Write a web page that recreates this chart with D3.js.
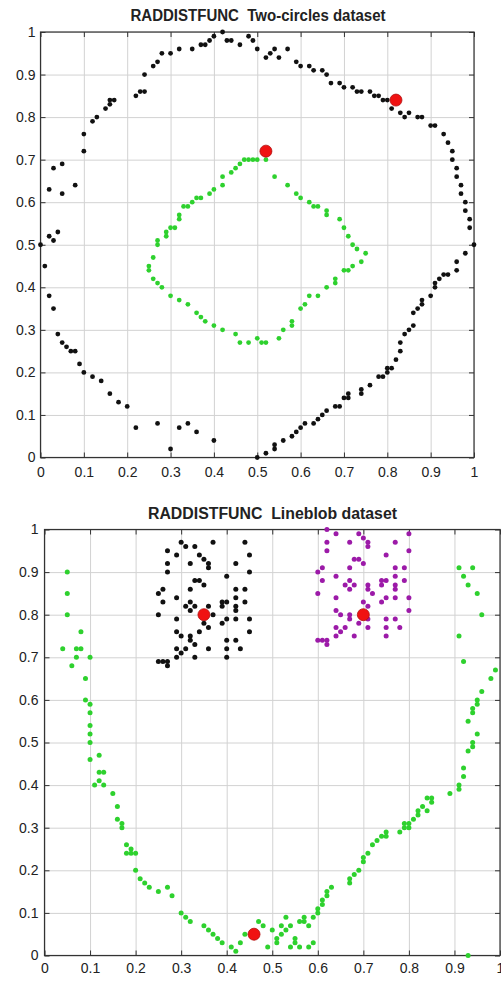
<!DOCTYPE html>
<html>
<head>
<meta charset="utf-8">
<script src="https://cdn.jsdelivr.net/npm/d3@7"></script>
<style>
  body { margin: 0; background: #fff; }
  svg { display: block; }
</style>
</head>
<body>
<div id="chart"></div>
<script>
// shared ticks
const tickValues = [0, 0.1, 0.2, 0.3, 0.4, 0.5, 0.6, 0.7, 0.8, 0.9, 1];
const tickLabels = ["0", "0.1", "0.2", "0.3", "0.4", "0.5", "0.6", "0.7", "0.8", "0.9", "1"];

// Two-circles dataset
const twoCirclesTitle = "RADDISTFUNC  Two-circles dataset";
const twoCirclesOuter = [
  [0,0.50],[0.02,0.63],[0.03,0.68],[0.05,0.69],[0.05,0.62],[0.08,0.64],[0.02,0.52],[0.03,0.51],[0.04,0.53],
  [0.10,0.76],[0.10,0.72],[0.12,0.79],[0.13,0.80],[0.15,0.82],[0.16,0.83],[0.16,0.84],[0.17,0.84],[0.22,0.85],
  [0.23,0.86],[0.24,0.86],[0.24,0.90],[0.26,0.92],[0.27,0.93],[0.28,0.95],[0.30,0.95],[0.32,0.96],[0.35,0.96],
  [0.37,0.97],[0.38,0.97],[0.39,0.98],[0.40,0.99],[0.42,1.00],[0.43,0.98],[0.44,0.98],[0.46,0.97],[0.48,0.99],
  [0.49,0.98],[0.50,0.96],[0.52,0.94],[0.53,0.95],[0.54,0.96],[0.55,0.94],[0.57,0.96],[0.59,0.93],[0.60,0.92],
  [0.62,0.92],[0.63,0.91],[0.65,0.91],[0.66,0.90],[0.67,0.88],[0.69,0.88],[0.70,0.87],[0.72,0.87],[0.73,0.86],
  [0.74,0.86],[0.76,0.86],[0.77,0.85],[0.78,0.85],[0.79,0.84],[0.80,0.84],[0.81,0.82],[0.83,0.81],[0.84,0.80],
  [0.85,0.81],[0.87,0.80],[0.88,0.80],[0.90,0.78],[0.91,0.78],[0.93,0.76],[0.94,0.74],[0.95,0.72],[0.95,0.70],
  [0.96,0.68],[0.96,0.66],[0.97,0.64],[0.97,0.62],[0.98,0.60],[0.98,0.58],[0.99,0.56],[0.99,0.54],[1.00,0.50],
  [0.01,0.45],[0.02,0.38],[0.03,0.35],[0.04,0.29],[0.05,0.27],[0.06,0.26],[0.07,0.25],[0.08,0.25],[0.09,0.22],
  [0.10,0.20],[0.12,0.19],[0.14,0.18],[0.16,0.15],[0.18,0.13],[0.20,0.12],[0.22,0.07],[0.27,0.08],[0.30,0.02],
  [0.32,0.07],[0.34,0.08],[0.36,0.06],[0.40,0.04],[0.50,0.00],[0.52,0.01],[0.54,0.02],[0.54,0.03],[0.56,0.04],
  [0.58,0.05],[0.59,0.06],[0.60,0.07],[0.61,0.08],[0.63,0.08],[0.64,0.09],[0.65,0.10],[0.66,0.11],[0.68,0.12],
  [0.69,0.12],[0.70,0.14],[0.71,0.14],[0.71,0.15],[0.74,0.15],[0.74,0.16],[0.76,0.17],[0.78,0.19],[0.79,0.19],
  [0.80,0.20],[0.80,0.21],[0.81,0.21],[0.82,0.23],[0.83,0.25],[0.83,0.27],[0.84,0.29],[0.85,0.30],[0.86,0.31],
  [0.86,0.34],[0.87,0.35],[0.88,0.36],[0.88,0.37],[0.90,0.38],[0.91,0.40],[0.91,0.41],[0.92,0.42],[0.93,0.43],
  [0.94,0.43],[0.96,0.44],[0.96,0.46],[0.98,0.48]
];
const twoCirclesInner = [
  [0.27,0.51],[0.27,0.50],[0.29,0.53],[0.29,0.52],[0.30,0.54],[0.31,0.54],[0.32,0.56],[0.32,0.57],[0.33,0.59],
  [0.34,0.59],[0.35,0.60],[0.36,0.61],[0.37,0.61],[0.39,0.62],[0.40,0.63],[0.42,0.64],[0.42,0.66],[0.44,0.67],
  [0.45,0.68],[0.46,0.69],[0.47,0.70],[0.48,0.70],[0.49,0.70],[0.50,0.70],[0.52,0.70],[0.54,0.66],[0.57,0.64],
  [0.59,0.62],[0.60,0.61],[0.62,0.60],[0.63,0.59],[0.64,0.59],[0.66,0.58],[0.66,0.57],[0.69,0.56],[0.70,0.54],
  [0.71,0.52],[0.72,0.50],[0.26,0.47],[0.25,0.45],[0.25,0.44],[0.26,0.42],[0.27,0.41],[0.28,0.40],[0.30,0.38],
  [0.32,0.37],[0.34,0.36],[0.36,0.34],[0.37,0.33],[0.38,0.32],[0.40,0.31],[0.42,0.30],[0.45,0.29],[0.46,0.27],
  [0.48,0.27],[0.50,0.28],[0.51,0.27],[0.52,0.27],[0.55,0.28],[0.56,0.30],[0.58,0.31],[0.58,0.32],[0.60,0.35],
  [0.61,0.36],[0.62,0.38],[0.64,0.38],[0.66,0.40],[0.68,0.41],[0.68,0.42],[0.70,0.44],[0.71,0.44],[0.72,0.45],
  [0.74,0.46],[0.75,0.48],[0.73,0.49]
];
const twoCirclesCenters = [[0.52,0.72],[0.82,0.84]];

// Lineblob dataset
const lineblobTitle = "RADDISTFUNC  Lineblob dataset";
const lineblobBlack = [
  [0.25,0.80],[0.25,0.85],[0.26,0.86],[0.26,0.83],[0.25,0.69],[0.26,0.69],[0.27,0.69],[0.27,0.68],[0.27,0.95],
  [0.27,0.92],[0.27,0.90],[0.29,0.94],[0.29,0.84],[0.29,0.79],[0.29,0.76],[0.30,0.75],[0.29,0.72],[0.29,0.70],
  [0.30,0.71],[0.30,0.97],[0.31,0.96],[0.32,0.92],[0.33,0.96],[0.31,0.82],[0.32,0.83],[0.32,0.81],[0.33,0.82],
  [0.31,0.72],[0.32,0.75],[0.32,0.74],[0.33,0.73],[0.33,0.70],[0.32,0.86],[0.33,0.88],[0.34,0.88],[0.35,0.87],
  [0.34,0.94],[0.35,0.93],[0.36,0.92],[0.36,0.91],[0.37,0.97],[0.34,0.76],[0.35,0.78],[0.36,0.77],[0.37,0.80],
  [0.36,0.82],[0.36,0.72],[0.39,0.78],[0.39,0.82],[0.39,0.83],[0.40,0.83],[0.40,0.79],[0.40,0.89],[0.40,0.74],
  [0.40,0.72],[0.40,0.70],[0.42,0.92],[0.42,0.86],[0.42,0.84],[0.42,0.82],[0.42,0.81],[0.42,0.79],[0.42,0.74],
  [0.43,0.72],[0.44,0.97],[0.44,0.86],[0.44,0.83],[0.45,0.94],[0.45,0.90],[0.45,0.79],[0.45,0.76]
];
const lineblobMagenta = [
  [0.60,0.90],[0.61,0.91],[0.60,0.85],[0.61,0.88],[0.60,0.74],[0.61,0.74],[0.62,0.74],[0.62,0.73],[0.62,1.00],
  [0.62,0.97],[0.62,0.95],[0.64,0.99],[0.64,0.89],[0.64,0.84],[0.64,0.81],[0.64,0.77],[0.64,0.75],[0.65,0.80],
  [0.65,0.76],[0.66,0.77],[0.66,0.87],[0.67,0.88],[0.67,0.86],[0.68,0.87],[0.67,0.97],[0.67,0.91],[0.67,0.80],
  [0.67,0.79],[0.68,0.75],[0.68,0.93],[0.69,0.93],[0.69,0.99],[0.69,0.78],[0.70,0.98],[0.71,0.97],[0.71,0.96],
  [0.70,0.92],[0.70,0.83],[0.71,0.82],[0.71,0.87],[0.71,0.86],[0.71,0.77],[0.72,0.85],[0.71,0.79],[0.74,0.88],
  [0.75,0.88],[0.74,0.87],[0.75,0.94],[0.74,0.83],[0.75,0.84],[0.75,0.79],[0.75,0.77],[0.75,0.75],[0.77,0.97],
  [0.77,0.91],[0.77,0.89],[0.77,0.87],[0.77,0.86],[0.77,0.84],[0.77,0.79],[0.78,0.77],[0.79,0.91],[0.79,0.88],
  [0.80,0.99],[0.80,0.95],[0.80,0.84],[0.80,0.81]
];
const lineblobGreen = [
  [0.04,0.72],[0.05,0.90],[0.05,0.85],[0.05,0.80],[0.06,0.68],[0.07,0.72],[0.08,0.72],[0.07,0.70],[0.08,0.76],
  [0.09,0.65],[0.09,0.60],[0.10,0.59],[0.10,0.70],[0.10,0.57],[0.10,0.54],[0.10,0.52],[0.10,0.50],[0.10,0.46],
  [0.11,0.40],[0.12,0.47],[0.12,0.43],[0.13,0.43],[0.12,0.41],[0.13,0.40],[0.15,0.38],[0.16,0.35],[0.16,0.32],
  [0.17,0.31],[0.17,0.30],[0.18,0.26],[0.19,0.25],[0.19,0.24],[0.18,0.24],[0.20,0.24],[0.20,0.20],[0.21,0.18],
  [0.22,0.17],[0.23,0.16],[0.25,0.15],[0.27,0.16],[0.28,0.14],[0.30,0.10],[0.31,0.09],[0.32,0.08],[0.35,0.07],
  [0.36,0.06],[0.37,0.05],[0.38,0.04],[0.39,0.03],[0.41,0.02],[0.42,0.01],[0.43,0.03],[0.44,0.05],[0.47,0.08],
  [0.48,0.07],[0.49,0.02],[0.50,0.06],[0.51,0.04],[0.51,0.03],[0.52,0.07],[0.52,0.05],[0.53,0.09],[0.53,0.06],
  [0.54,0.07],[0.54,0.02],[0.55,0.04],[0.55,0.03],[0.56,0.08],[0.56,0.02],[0.57,0.09],[0.57,0.08],[0.58,0.07],
  [0.58,0.02],[0.59,0.09],[0.59,0.03],[0.60,0.10],[0.60,0.11],[0.61,0.12],[0.61,0.13],[0.62,0.14],[0.62,0.15],
  [0.63,0.16],[0.67,0.17],[0.67,0.18],[0.68,0.19],[0.69,0.20],[0.70,0.22],[0.70,0.23],[0.71,0.24],[0.72,0.26],
  [0.73,0.27],[0.74,0.28],[0.75,0.28],[0.75,0.29],[0.78,0.29],[0.79,0.30],[0.79,0.31],[0.80,0.30],[0.80,0.31],
  [0.81,0.32],[0.82,0.34],[0.82,0.33],[0.83,0.35],[0.84,0.37],[0.84,0.34],[0.85,0.37],[0.85,0.36],[0.89,0.38],
  [0.91,0.40],[0.91,0.39],[0.92,0.44],[0.92,0.42],[0.93,0.48],[0.94,0.50],[0.94,0.49],[0.95,0.52],[0.93,0.00],
  [0.93,0.55],[0.94,0.58],[0.94,0.57],[0.95,0.60],[0.95,0.59],[0.96,0.62],[0.98,0.65],[0.99,0.67],[0.92,0.69],
  [0.91,0.75],[0.96,0.80],[0.95,0.85],[0.93,0.87],[0.92,0.89],[0.91,0.91],[0.94,0.91]
];
const lineblobCenters = [[0.35,0.80],[0.70,0.80],[0.46,0.05]];

const svg = d3.select("#chart").append("svg")
  .attr("width", 501)
  .attr("height", 981);

const font = "'Liberation Sans', Arial, sans-serif";

function drawPanel(cfg) {
  const x = d3.scaleLinear().domain([0, 1]).range([cfg.left, cfg.right]);
  const y = d3.scaleLinear().domain([0, 1]).range([cfg.bottom, cfg.top]);
  const w = cfg.right - cfg.left;
  const h = cfg.bottom - cfg.top;
  const g = svg.append("g");

  // grid lines
  g.append("g")
    .attr("transform", `translate(0,${cfg.bottom})`)
    .call(d3.axisBottom(x).tickValues(tickValues).tickSize(-h).tickFormat(""))
    .call(s => s.select(".domain").remove())
    .selectAll("line").attr("stroke", "#d2d2d2");
  g.append("g")
    .attr("transform", `translate(${cfg.left},0)`)
    .call(d3.axisLeft(y).tickValues(tickValues).tickSize(-w).tickFormat(""))
    .call(s => s.select(".domain").remove())
    .selectAll("line").attr("stroke", "#d2d2d2");

  // box
  g.append("rect")
    .attr("x", cfg.left).attr("y", cfg.top)
    .attr("width", w).attr("height", h)
    .attr("fill", "none").attr("stroke", "#333").attr("stroke-width", 1.2);

  // inward ticks on all sides (matlab style)
  const sides = [
    [d3.axisBottom(x), `translate(0,${cfg.bottom})`],
    [d3.axisTop(x), `translate(0,${cfg.top})`],
    [d3.axisLeft(y), `translate(${cfg.left},0)`],
    [d3.axisRight(y), `translate(${cfg.right},0)`]
  ];
  sides.forEach(([ax, tr]) => {
    g.append("g").attr("transform", tr)
      .call(ax.tickValues(tickValues).tickSize(-5).tickFormat(""))
      .call(s => s.select(".domain").remove())
      .selectAll("line").attr("stroke", "#333");
  });

  // tick labels
  const xl = g.append("g")
    .attr("transform", `translate(0,${cfg.bottom})`)
    .call(d3.axisBottom(x).tickValues(tickValues).tickSize(0).tickPadding(cfg.xPad)
      .tickFormat((d, i) => tickLabels[i]));
  const yl = g.append("g")
    .attr("transform", `translate(${cfg.left},0)`)
    .call(d3.axisLeft(y).tickValues(tickValues).tickSize(0).tickPadding(cfg.yPad)
      .tickFormat((d, i) => tickLabels[i]));
  [xl, yl].forEach(a => {
    a.select(".domain").remove();
    a.selectAll("text")
      .attr("fill", "#222")
      .style("font-family", font)
      .style("font-size", "14px");
  });

  // title
  g.append("text")
    .attr("x", cfg.titleX)
    .attr("y", cfg.titleY)
    .attr("text-anchor", "middle")
    .attr("textLength", cfg.titleW)
    .attr("lengthAdjust", "spacingAndGlyphs")
    .style("white-space", "pre")
    .style("font-family", font)
    .style("font-size", "16px")
    .style("font-weight", "bold")
    .attr("fill", "#222")
    .text(cfg.title);

  // clusters
  cfg.groups.forEach(grp => {
    g.append("g").selectAll("circle")
      .data(grp.data)
      .join("circle")
      .attr("cx", d => x(d[0]))
      .attr("cy", d => y(d[1]))
      .attr("r", cfg.dotR)
      .attr("fill", grp.color);
  });

  // cluster centres
  g.append("g").selectAll("circle")
    .data(cfg.centers)
    .join("circle")
    .attr("cx", d => x(d[0]))
    .attr("cy", d => y(d[1]))
    .attr("r", 6)
    .attr("fill", "#f01212")
    .attr("stroke", "#b01010")
    .attr("stroke-width", 0.8);
}

drawPanel({
  left: 40.5, right: 474, top: 32, bottom: 457.5,
  xPad: 10, yPad: 5,
  title: twoCirclesTitle, titleX: 258, titleY: 21, titleW: 255,
  dotR: 2.4,
  groups: [
    { data: twoCirclesOuter, color: "#111" },
    { data: twoCirclesInner, color: "#2ed12e" }
  ],
  centers: twoCirclesCenters
});

drawPanel({
  left: 44.5, right: 500, top: 529.5, bottom: 955.5,
  xPad: 8, yPad: 6,
  title: lineblobTitle, titleX: 272.5, titleY: 519, titleW: 249,
  dotR: 2.5,
  groups: [
    { data: lineblobBlack, color: "#111" },
    { data: lineblobMagenta, color: "#9c1aa8" },
    { data: lineblobGreen, color: "#2ed12e" }
  ],
  centers: lineblobCenters
});
</script>
</body>
</html>
